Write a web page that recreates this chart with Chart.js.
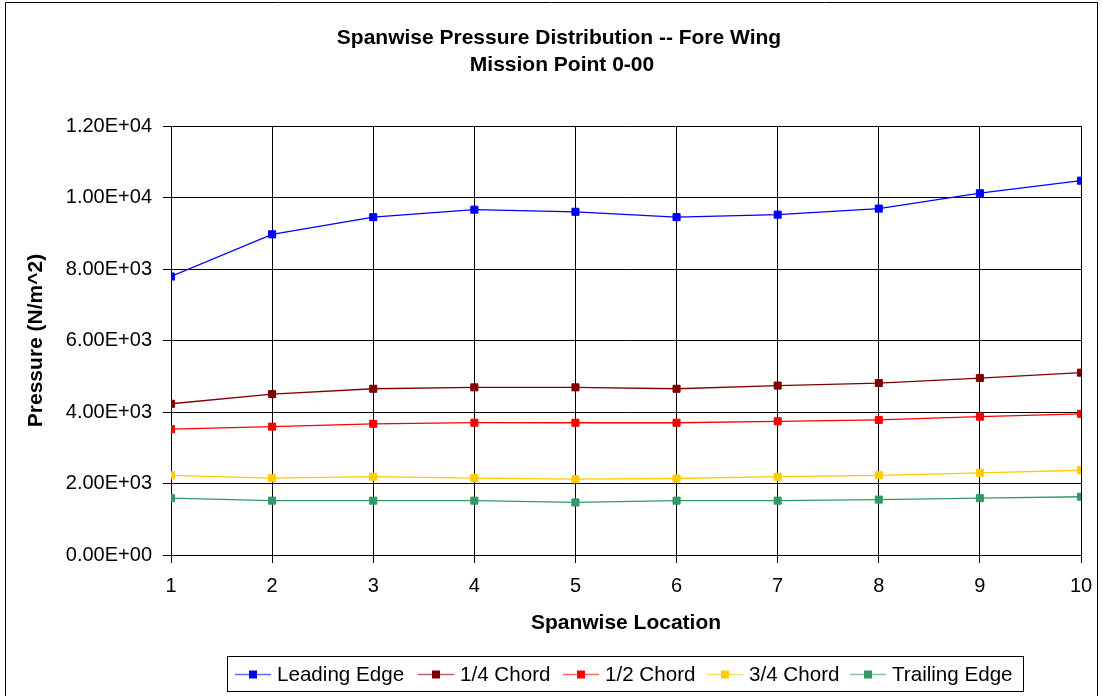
<!DOCTYPE html>
<html><head><meta charset="utf-8">
<script src="https://cdn.jsdelivr.net/npm/chart.js@4"></script>
<style>html,body{margin:0;padding:0;background:#fff}#wrap{width:1102px;height:696px;position:relative}</style>
</head><body><div id="wrap"><canvas id="c" width="1102" height="696"></canvas></div>
<script>
const locations = [1,2,3,4,5,6,7,8,9,10];
const leadingEdge = [7790,8970,9450,9660,9600,9450,9520,9690,10120,10470];
const quarterChord = [4230,4500,4650,4690,4690,4650,4740,4810,4950,5100];
const halfChord = [3520,3590,3670,3700,3700,3700,3740,3780,3870,3950];
const threeQuarterChord = [2230,2150,2190,2150,2120,2140,2190,2230,2300,2370];
const trailingEdge = [1590,1520,1520,1520,1470,1520,1520,1550,1590,1630];
const yTickLabels = ['0.00E+00','2.00E+03','4.00E+03','6.00E+03','8.00E+03','1.00E+04','1.20E+04'];
const seriesNames = ['Leading Edge','1/4 Chord','1/2 Chord','3/4 Chord','Trailing Edge'];
const seriesColors = ['#0000FF','#800000','#FF0000','#FFCC00','#339966'];
const titleLines = ['Spanwise Pressure Distribution -- Fore Wing','Mission Point 0-00'];

const FONT = '"Liberation Sans", Arial, sans-serif';
const allSeries = [leadingEdge, quarterChord, halfChord, threeQuarterChord, trailingEdge];
const datasets = allSeries.map((vals, i) => ({
  label: seriesNames[i],
  data: vals.map((v, j) => ({x: locations[j], y: v})),
  borderColor: seriesColors[i],
  backgroundColor: seriesColors[i],
  borderWidth: 1.3,
  pointStyle: 'rect',
  pointRadius: 5,
  pointBorderWidth: 1,
  pointBorderColor: seriesColors[i],
  pointBackgroundColor: seriesColors[i],
  tension: 0
}));

const decor = {
  id: 'decor',
  afterDraw(chart) {
    const ctx = chart.ctx;
    ctx.save();
    ctx.strokeStyle = '#000';
    ctx.lineWidth = 1;
    ctx.beginPath();
    ctx.moveTo(5.5, 700); ctx.lineTo(5.5, 2.5); ctx.lineTo(1097.5, 2.5); ctx.lineTo(1097.5, 700);
    ctx.stroke();
    ctx.fillStyle = '#000';
    ctx.font = 'bold 21px ' + FONT;
    ctx.textAlign = 'center';
    ctx.textBaseline = 'middle';
    ctx.fillText(titleLines[0], 559, 38);
    ctx.fillText(titleLines[1], 562, 65);
    const top = 656.5, bottom = 691.5, left = 227.5, right = 1023.5;
    ctx.strokeStyle = '#000';
    ctx.strokeRect(left, top, right - left, bottom - top);
    const lineStarts = [235, 418, 563, 707, 850];
    ctx.font = '20.6px ' + FONT;
    ctx.textAlign = 'left';
    const cy = 674.5;
    seriesNames.forEach((n, i) => {
      const x0 = lineStarts[i];
      ctx.strokeStyle = seriesColors[i];
      ctx.globalAlpha = 0.6;
      ctx.lineWidth = 1.3;
      ctx.beginPath(); ctx.moveTo(x0, cy); ctx.lineTo(x0 + 36, cy); ctx.stroke();
      ctx.globalAlpha = 1;
      ctx.fillStyle = seriesColors[i];
      ctx.fillRect(x0 + 14, cy - 4, 8, 8);
      ctx.fillStyle = '#000';
      ctx.fillText(n, x0 + 42, cy + 1);
    });
    ctx.restore();
  }
};

new Chart(document.getElementById('c'), {
  type: 'line',
  data: { datasets },
  options: {
    responsive: false,
    animation: false,
    devicePixelRatio: 1,
    layout: { padding: { left: 22, right: 21, top: 126, bottom: 50 } },
    plugins: { legend: { display: false }, title: { display: false }, tooltip: { enabled: false } },
    scales: {
      x: {
        type: 'linear', min: 1, max: 10,
        ticks: { stepSize: 1, color: '#000', font: { family: FONT, size: 20 }, padding: 11 },
        grid: { color: '#000', lineWidth: 1, tickLength: 8, tickColor: '#000' },
        border: { color: '#000', width: 1 },
        title: { display: true, text: 'Spanwise Location', color: '#000', font: { family: FONT, size: 21, weight: 'bold' }, padding: { top: 4, bottom: 10 } },
        afterFit(s) { s.height = 91; s.paddingRight = 0; s.paddingLeft = 0; }
      },
      y: {
        min: 0, max: 12000,
        ticks: { stepSize: 2000, color: '#000', font: { family: FONT, size: 20 }, padding: 11,
          callback: (v) => yTickLabels[Math.round(v / 2000)] },
        grid: { color: '#000', lineWidth: 1, tickLength: 8, tickColor: '#000' },
        border: { color: '#000', width: 1 },
        title: { display: true, text: 'Pressure (N/m^2)', color: '#000', font: { family: FONT, size: 21, weight: 'bold' }, padding: { top: 2, bottom: 0 } },
        afterFit(s) { s.width = 149; s.paddingTop = 0; s.paddingBottom = 0; }
      }
    }
  },
  plugins: [decor]
});
</script></body></html>
